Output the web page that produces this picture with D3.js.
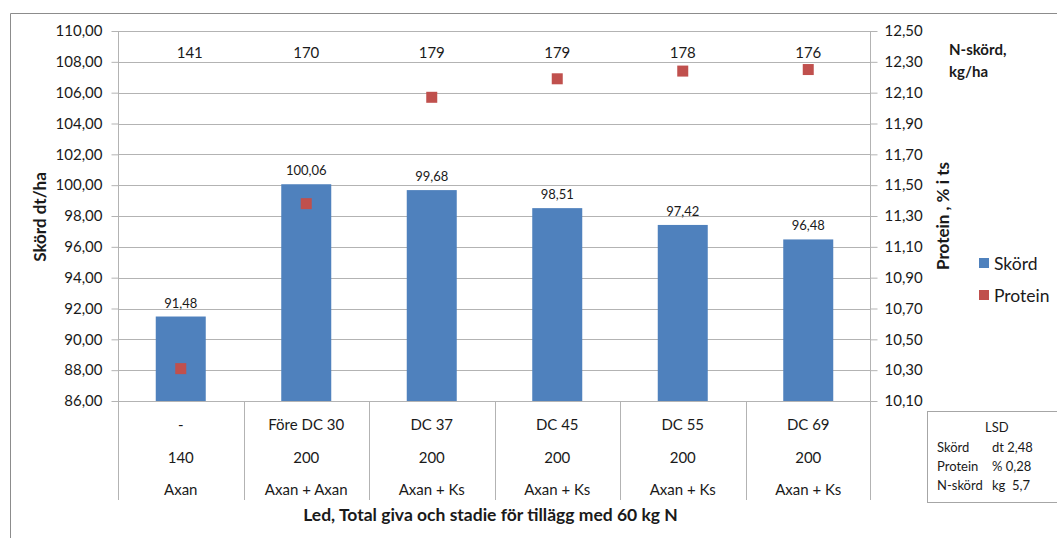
<!DOCTYPE html>
<html>
<head>
<meta charset="utf-8">
<script src="https://cdn.jsdelivr.net/npm/d3@7"></script>
<style>
  html, body { margin: 0; padding: 0; background: #fff; }
  svg { display: block; font-family: Lato, "Open Sans", sans-serif; }
</style>
</head>
<body>
<svg id="chart" width="1057" height="538"></svg>
<script>
// Treatments along the x axis (three label rows per category)
const stages = ["-", "Före DC 30", "DC 37", "DC 45", "DC 55", "DC 69"];
const totalN = ["140", "200", "200", "200", "200", "200"];
const products = ["Axan", "Axan + Axan", "Axan + Ks", "Axan + Ks", "Axan + Ks", "Axan + Ks"];

// Yield (dt/ha), protein (% of DM) and N yield (kg/ha)
const skord = [91.48, 100.06, 99.68, 98.51, 97.42, 96.48];
const protein = [10.31, 11.38, 12.07, 12.19, 12.24, 12.25];
const nSkord = [141, 170, 179, 179, 178, 176];

// Axis ticks
const leftTicks = d3.range(86, 110.001, 2);
const rightTicks = d3.range(10.1, 12.5001, 0.2);

// LSD notes
const lsdRows = [["Skörd", "dt 2,48"], ["Protein", "% 0,28"], ["N-skörd", "kg  5,7"]];

const svg = d3.select("#chart");
const plot = { left: 118, right: 871, top: 31, bottom: 401 };
const blue = "#4F81BD", red = "#C0504D", grid = "#b3b3b3", txt = "#1a1a1a";

const fmt2 = v => v.toFixed(2).replace(".", ",");

const x = d3.scaleBand().domain(d3.range(stages.length))
  .range([plot.left, plot.right]).paddingInner(0).paddingOuter(0);
const yL = d3.scaleLinear().domain([86, 110]).range([plot.bottom, plot.top]);
const yR = d3.scaleLinear().domain([10.1, 12.5]).range([plot.bottom, plot.top]);

// Outer chart frame
svg.append("path").attr("d", "M10.5,538 V13.5 H1057")
  .attr("fill", "none").attr("stroke", "#8c8c8c").attr("stroke-width", 1);

// Horizontal gridlines
svg.append("g").selectAll("line").data(leftTicks).join("line")
  .attr("x1", plot.left).attr("x2", plot.right)
  .attr("y1", d => Math.round(yL(d)) + 0.5).attr("y2", d => Math.round(yL(d)) + 0.5)
  .attr("stroke", grid).attr("stroke-width", 1);

// Left axis
const gL = svg.append("g").attr("transform", `translate(${plot.left + 0.5},0)`)
  .call(d3.axisLeft(yL).tickValues(leftTicks).tickFormat(fmt2).tickSize(7).tickPadding(9));
gL.select(".domain").attr("stroke", grid).attr("d", `M0,${plot.top}V${plot.bottom + 99}`);
gL.selectAll(".tick line").attr("stroke", grid);
gL.selectAll(".tick text").attr("font-size", 15).attr("fill", txt)
  .attr("font-family", "Lato, sans-serif");

// Right axis
const gR = svg.append("g").attr("transform", `translate(${plot.right - 0.5},0)`)
  .call(d3.axisRight(yR).tickValues(rightTicks).tickFormat(fmt2).tickSize(7).tickPadding(7));
gR.select(".domain").attr("stroke", grid).attr("d", `M0,${plot.top}V${plot.bottom + 99}`);
gR.selectAll(".tick line").attr("stroke", grid);
gR.selectAll(".tick text").attr("font-size", 15).attr("fill", txt)
  .attr("font-family", "Lato, sans-serif");

// Bars
const barW = 50;
svg.append("g").selectAll("rect").data(skord).join("rect")
  .attr("x", (d, i) => x(i) + x.bandwidth() / 2 - barW / 2)
  .attr("width", barW)
  .attr("y", d => yL(d))
  .attr("height", d => yL(86) - yL(d))
  .attr("fill", blue);

// Bar value labels
svg.append("g").selectAll("text").data(skord).join("text")
  .attr("x", (d, i) => x(i) + x.bandwidth() / 2)
  .attr("y", d => yL(d) - 9)
  .attr("text-anchor", "middle").attr("font-size", 13).attr("fill", txt)
  .text(fmt2);

// Protein markers
const ms = 11;
svg.append("g").selectAll("rect").data(protein).join("rect")
  .attr("x", (d, i) => x(i) + x.bandwidth() / 2 - ms / 2)
  .attr("y", d => yR(d) - ms / 2)
  .attr("width", ms).attr("height", ms)
  .attr("fill", red);

// N yield labels along the top
svg.append("g").selectAll("text").data(nSkord).join("text")
  .attr("x", (d, i) => x(i) + x.bandwidth() / 2 + (i === 0 ? 9 : 0))
  .attr("y", 58)
  .attr("text-anchor", "middle").attr("font-size", 15).attr("fill", txt)
  .text(d => d);

// Category table below the plot: separators and three text rows
svg.append("g").selectAll("line").data(d3.range(1, stages.length)).join("line")
  .attr("x1", i => Math.round(x(i)) + 0.5).attr("x2", i => Math.round(x(i)) + 0.5)
  .attr("y1", plot.bottom).attr("y2", plot.bottom + 99)
  .attr("stroke", grid);
[stages, totalN, products].forEach((row, r) => {
  svg.append("g").selectAll("text").data(row).join("text")
    .attr("x", (d, i) => x(i) + x.bandwidth() / 2)
    .attr("y", 430 + r * 32.5)
    .attr("text-anchor", "middle").attr("font-size", 15).attr("fill", txt)
    .text(d => d);
});

// Axis titles
svg.append("text").attr("x", (plot.left + plot.right) / 2 - 4).attr("y", 521)
  .attr("text-anchor", "middle").attr("font-size", 17.5).attr("font-weight", "bold").attr("fill", txt)
  .text("Led, Total giva och stadie för tillägg med 60 kg N");
svg.append("text").attr("transform", "translate(46,217) rotate(-90)")
  .attr("text-anchor", "middle").attr("font-size", 17).attr("font-weight", "bold").attr("fill", txt)
  .text("Skörd dt/ha");
svg.append("text").attr("transform", "translate(949,216) rotate(-90)")
  .attr("text-anchor", "middle").attr("font-size", 17).attr("font-weight", "bold").attr("fill", txt)
  .text("Protein , % i ts");

// N-skörd unit note
svg.append("text").attr("x", 949).attr("y", 55).attr("font-size", 15)
  .attr("font-weight", "bold").attr("fill", txt).text("N-skörd,");
svg.append("text").attr("x", 949).attr("y", 77).attr("font-size", 15)
  .attr("font-weight", "bold").attr("fill", txt).text("kg/ha");

// Legend
const legend = [["Skörd", blue], ["Protein", red]];
const lg = svg.append("g").selectAll("g").data(legend).join("g")
  .attr("transform", (d, i) => `translate(979,${263 + i * 32})`);
lg.append("rect").attr("x", 0).attr("y", -5).attr("width", 10).attr("height", 10).attr("fill", d => d[1]);
lg.append("text").attr("x", 15).attr("y", 6.5).attr("font-size", 17.5).attr("fill", txt).text(d => d[0]);

// LSD box
svg.append("rect").attr("x", 927.5).attr("y", 411.5).attr("width", 140).attr("height", 91)
  .attr("fill", "#fff").attr("stroke", "#a6a6a6");
svg.append("text").attr("x", 985).attr("y", 432).attr("font-size", 13).attr("fill", txt).text("LSD");
lsdRows.forEach((r, i) => {
  svg.append("text").attr("x", 937).attr("y", 452 + i * 19).attr("font-size", 13).attr("fill", txt).text(r[0]);
  svg.append("text").attr("x", 992).attr("y", 452 + i * 19).attr("font-size", 13).attr("fill", txt)
    .attr("xml:space", "preserve").style("white-space", "pre").text(r[1]);
});
</script>
</body>
</html>
